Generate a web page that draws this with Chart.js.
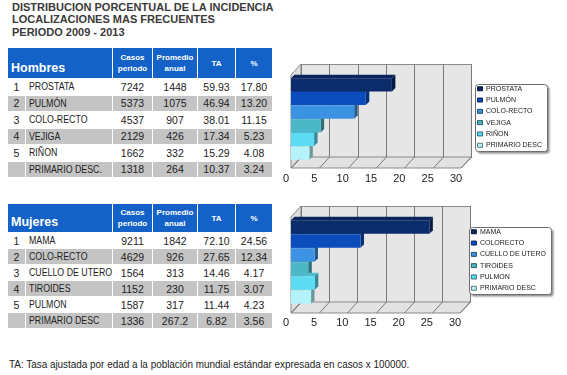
<!DOCTYPE html>
<html>
<head>
<meta charset="utf-8">
<script src="https://cdn.jsdelivr.net/npm/chart.js@4.4.1/dist/chart.umd.min.js"></script>
<style>
  body { margin: 0; background: #fff; width: 567px; height: 375px; position: relative; overflow: hidden;
         font-family: "Liberation Sans", Arial, sans-serif; }
  .title { position: absolute; left: 12px; top: 1px; font-size: 11px; font-weight: bold; color: #3a3a3a; line-height: 12.3px; }
  table.tab { position: absolute; left: 7px; width: 265px; border-collapse: collapse; table-layout: fixed; }
  table.tab th { background: #1462c8; color: #fff; border: 1px solid #fff; padding: 0; font-size: 8px; line-height: 11px; font-weight: bold; }
  table.tab th.grp { text-align: left; vertical-align: bottom; font-size: 12.5px; padding: 0 0 4px 3px; }
  table.tab td { border: 1px solid #fff; padding: 0; font-size: 10.5px; color: #222; text-align: center; white-space: nowrap; overflow: hidden; }
  table.tab td.nm { text-align: left; padding-left: 3px; font-size: 10px; overflow: visible; }
  table.tab td.nm span { display: inline-block; transform: scaleX(0.88); transform-origin: left center; }
  table.tab tr.g td { background: #c4c4c4; }
  .plot { position: absolute; left: 270px; }
  .note { position: absolute; left: 9px; top: 358px; font-size: 11px; color: #222; line-height: 13px;
          white-space: nowrap; transform: scaleX(0.9); transform-origin: left center; }
</style>
</head>
<body>
<div class="title">DISTRIBUCION PORCENTUAL DE LA INCIDENCIA<br>LOCALIZACIONES MAS FRECUENTES<br>PERIODO 2009 - 2013</div>
<table class="tab" id="tabH" style="top:47px"></table>
<table class="tab" id="tabM" style="top:203px"></table>
<canvas class="plot" id="chartH" width="297" height="140" style="top:47px"></canvas>
<canvas class="plot" id="chartM" width="297" height="140" style="top:190px"></canvas>
<div class="note">TA: Tasa ajustada por edad a la población mundial estándar expresada en casos x 100000.</div>

<script>
// --- data ---
const ranks = ['1', '2', '3', '4', '5', ''];
const colHeads = ['Casos<br>periodo', 'Promedio<br>anual', 'TA', '%'];

const hombresSitios = ['PROSTATA', 'PULMÓN', 'COLO-RECTO', 'VEJIGA', 'RIÑON', 'PRIMARIO DESC.'];
const hombresLegend = ['PROSTATA', 'PULMÓN', 'COLO-RECTO', 'VEJIGA', 'RIÑON', 'PRIMARIO DESC'];
const hombresCasos = ['7242', '5373', '4537', '2129', '1662', '1318'];
const hombresPromedio = ['1448', '1075', '907', '426', '332', '264'];
const hombresTA = ['59.93', '46.94', '38.01', '17.34', '15.29', '10.37'];
const hombresPct = [17.80, 13.20, 11.15, 5.23, 4.08, 3.24];

const mujeresSitios = ['MAMA', 'COLO-RECTO', 'CUELLO DE UTERO', 'TIROIDES', 'PULMON', 'PRIMARIO DESC'];
const mujeresLegend = ['MAMA', 'COLORECTO', 'CUELLO DE UTERO', 'TIROIDES', 'PULMON', 'PRIMARIO DESC'];
const mujeresCasos = ['9211', '4629', '1564', '1152', '1587', '1336'];
const mujeresPromedio = ['1842', '926', '313', '230', '317', '267.2'];
const mujeresTA = ['72.10', '27.65', '14.46', '11.75', '11.44', '6.82'];
const mujeresPct = [24.56, 12.34, 4.17, 3.07, 4.23, 3.56];

const xTicks = [0, 5, 10, 15, 20, 25, 30];
const barColors = ['#0c2b6b', '#0c4dbd', '#3c93e3', '#4bb7c7', '#5cdcf3', '#b5f3fa'];

const FONT = '"Liberation Sans", Arial, sans-serif';

// --- tables ---
function buildTable(id, group, sitios, casos, prom, ta, pct, headH, rowH) {
  let html = '<colgroup><col style="width:18px"><col style="width:87px"><col style="width:40px">' +
             '<col style="width:45px"><col style="width:38px"><col style="width:37px"></colgroup>';
  html += `<tr style="height:${headH}px"><th class="grp" colspan="2">${group}</th>` +
          colHeads.map(h => `<th>${h}</th>`).join('') + '</tr>';
  sitios.forEach((s, i) => {
    html += `<tr class="${i % 2 ? 'g' : ''}" style="height:${rowH}px">` +
            `<td>${ranks[i]}</td><td class="nm"><span>${s}</span></td><td>${casos[i]}</td>` +
            `<td>${prom[i]}</td><td>${ta[i]}</td><td>${pct[i].toFixed(2)}</td></tr>`;
  });
  document.getElementById(id).innerHTML = html;
}
buildTable('tabH', 'Hombres', hombresSitios, hombresCasos, hombresPromedio, hombresTA, hombresPct, 31, 16.5);
buildTable('tabM', 'Mujeres', mujeresSitios, mujeresCasos, mujeresPromedio, mujeresTA, mujeresPct, 29, 16);

// --- helpers ---
function shade(hex, f) {
  const n = parseInt(hex.slice(1), 16);
  const r = Math.round(((n >> 16) & 255) * f), g = Math.round(((n >> 8) & 255) * f), b = Math.round((n & 255) * f);
  return `rgb(${r},${g},${b})`;
}

// 3D box look: walls, floor, grid in the back, bar depth faces, framed legend
function boxPlugin(floorGap) {
  const dx = 10, dy = -11, d = 3.5;
  return {
    id: 'box3d',
    beforeDraw(chart) {
      const { ctx, chartArea: a, scales: { x } } = chart;
      const L = a.left, R = a.right, T = a.top - 3, B = a.bottom + floorGap;
      ctx.save();
      ctx.strokeStyle = '#8a8a8a';
      ctx.lineWidth = 1;
      // back wall
      ctx.fillStyle = '#e6e6e6';
      ctx.fillRect(L + dx, T + dy, R - L, B - T);
      ctx.strokeRect(L + dx + 0.5, T + dy + 0.5, R - L, B - T);
      // left wall
      ctx.fillStyle = '#dedede';
      ctx.beginPath();
      ctx.moveTo(L, T); ctx.lineTo(L + dx, T + dy); ctx.lineTo(L + dx, B + dy); ctx.lineTo(L, B); ctx.closePath();
      ctx.fill(); ctx.stroke();
      // floor
      ctx.fillStyle = '#e2e2e2';
      ctx.beginPath();
      ctx.moveTo(L, B); ctx.lineTo(R, B); ctx.lineTo(R + dx, B + dy); ctx.lineTo(L + dx, B + dy); ctx.closePath();
      ctx.fill(); ctx.stroke();
      // grid lines
      ctx.strokeStyle = '#7a7a7a';
      x.ticks.forEach(t => {
        const px = Math.round(x.getPixelForValue(t.value)) + 0.5;
        ctx.beginPath();
        ctx.moveTo(px + dx, T + dy); ctx.lineTo(px + dx, B + dy);
        ctx.moveTo(px, B); ctx.lineTo(px + dx, B + dy);
        ctx.stroke();
      });
      // legend frame
      const hb = chart.legend.legendHitBoxes;
      if (hb && hb.length) {
        const x0 = Math.min(...hb.map(h => h.left)) - 2.5;
        const x1 = Math.max(...hb.map(h => h.left + h.width)) + 5;
        const y0 = Math.min(...hb.map(h => h.top)) - 1.5;
        const y1 = Math.max(...hb.map(h => h.top + h.height)) + 2;
        ctx.save();
        ctx.shadowColor = 'rgba(0,0,0,0.45)';
        ctx.shadowOffsetX = 2; ctx.shadowOffsetY = 2; ctx.shadowBlur = 2;
        ctx.fillStyle = '#fff';
        ctx.beginPath();
        ctx.roundRect(Math.round(x0) + 0.5, Math.round(y0) + 0.5, Math.round(x1 - x0), Math.round(y1 - y0), 3);
        ctx.fill();
        ctx.restore();
        ctx.strokeStyle = '#6e6e6e';
        ctx.beginPath();
        ctx.roundRect(Math.round(x0) + 0.5, Math.round(y0) + 0.5, Math.round(x1 - x0), Math.round(y1 - y0), 3);
        ctx.stroke();
      }
      ctx.restore();
    },
    beforeDatasetsDraw(chart) {
      const { ctx } = chart;
      const meta = chart.getDatasetMeta(0);
      ctx.save();
      meta.data.forEach((bar, i) => {
        const { x, y, base, height } = bar.getProps(['x', 'y', 'base', 'height'], true);
        const top = y - height / 2, bot = y + height / 2;
        const c = barColors[i];
        ctx.fillStyle = shade(c, 0.85);
        ctx.beginPath();
        ctx.moveTo(base, top); ctx.lineTo(x, top); ctx.lineTo(x + d, top - d); ctx.lineTo(base + d, top - d); ctx.closePath();
        ctx.fill();
        ctx.fillStyle = shade(c, 0.62);
        ctx.beginPath();
        ctx.moveTo(x, top); ctx.lineTo(x + d, top - d); ctx.lineTo(x + d, bot - d); ctx.lineTo(x, bot); ctx.closePath();
        ctx.fill();
      });
      ctx.restore();
    }
  };
}

function makeChart(id, legendLabels, values, cfg) {
  const canvas = document.getElementById(id);
  const W = canvas.width;
  return new Chart(canvas, {
    type: 'bar',
    data: {
      labels: legendLabels,
      datasets: [{
        data: values,
        backgroundColor: barColors,
        borderWidth: 0,
        barPercentage: 0.96,
        categoryPercentage: 1
      }]
    },
    options: {
      indexAxis: 'y',
      responsive: false,
      animation: false,
      devicePixelRatio: 1,
      layout: { padding: { left: 0, right: cfg.padR, top: 0, bottom: 0 } },
      plugins: {
        tooltip: { enabled: false },
        legend: {
          position: 'right',
          align: 'center',
          maxWidth: 120,
          labels: {
            boxWidth: 5,
            boxHeight: 4,
            padding: 4.3,
            color: '#222',
            font: { family: FONT, size: 7, lineHeight: 1.2 },
            generateLabels: () => legendLabels.map((t, i) => ({
              text: t, fillStyle: barColors[i], strokeStyle: shade(barColors[i], 0.5),
              lineWidth: 1, hidden: false, index: i, fontColor: '#222'
            }))
          }
        }
      },
      scales: {
        x: {
          type: 'linear', position: 'bottom',
          min: xTicks[0], max: xTicks[xTicks.length - 1],
          ticks: { stepSize: xTicks[1] - xTicks[0], padding: 12, labelOffset: -5, color: '#222',
                   font: { family: FONT, size: 11 } },
          grid: { display: false, drawTicks: false }, border: { display: false },
          afterFit: s => { s.height = cfg.bottomH; }
        },
        y: {
          type: 'category', position: 'left',
          ticks: { display: false }, grid: { display: false, drawTicks: false }, border: { display: false },
          afterFit: s => { s.width = cfg.left; }
        },
        gapT: {
          type: 'linear', position: 'top',
          ticks: { display: false }, grid: { display: false, drawTicks: false }, border: { display: false },
          afterFit: s => { s.height = cfg.topH; }
        },
        gapR: {
          type: 'linear', position: 'right',
          ticks: { display: false }, grid: { display: false, drawTicks: false }, border: { display: false },
          afterFit: s => { s.width = Math.max(0, W - cfg.padR - s.chart.legend.width - cfg.areaRight); }
        }
      }
    },
    plugins: [boxPlugin(cfg.floorGap)]
  });
}

makeChart('chartH', hombresLegend, hombresPct, { padR: 15, left: 21, areaRight: 191, topH: 31, bottomH: 27, floorGap: 8 });
makeChart('chartM', mujeresLegend, mujeresPct, { padR: 11, left: 21, areaRight: 190, topH: 30, bottomH: 26, floorGap: 9 });
</script>
</body>
</html>
